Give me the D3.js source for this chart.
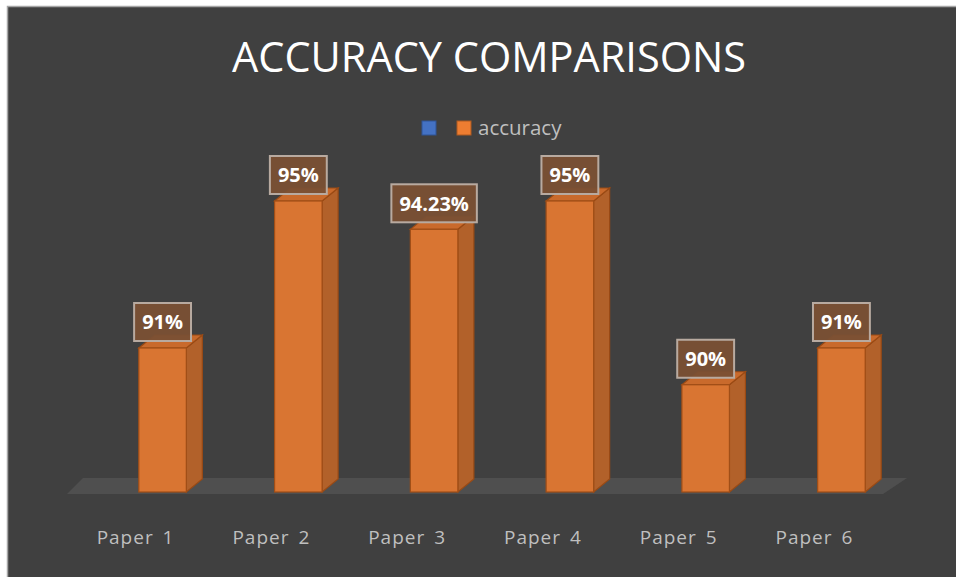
<!DOCTYPE html>
<html>
<head>
    <meta charset="utf-8">
    <title>Accuracy comparisons</title>
    <style>
        body { margin: 0; background: #fff; overflow: hidden; }
        svg text { font-family: "Open Sans", "Noto Sans", sans-serif; }
    </style>
</head>
<body>
<script src="https://cdn.jsdelivr.net/npm/d3@7"></script>
<script>
    var categories = ['Paper 1', 'Paper 2', 'Paper 3', 'Paper 4', 'Paper 5', 'Paper 6'];
    var accuracy = [91, 95, 94.23, 95, 90, 91];
    var valueLabels = ['91%', '95%', '94.23%', '95%', '90%', '91%'];

    var w = 956, h = 577;
    var depthX = 16, depthY = 13;   // 3d offset of bar sides
    var baseY = 492;

    var svg = d3.select('body').append('svg')
            .attr('width', w)
            .attr('height', h)
            .style('display', 'block');

    // chart area
    svg.append('rect')
            .attr('x', 7.5).attr('y', 6.5)
            .attr('width', 960).attr('height', 580)
            .attr('fill', '#404040')
            .attr('stroke', '#a6a6a6')
            .attr('stroke-width', 1.5);

    svg.append('text')
            .attr('x', 489).attr('y', 72)
            .attr('text-anchor', 'middle')
            .attr('fill', '#ffffff')
            .style('font-size', '41.5px')
            .text('ACCURACY COMPARISONS');

    // legend (first entry is an empty series)
    svg.append('rect').attr('x', 422).attr('y', 121).attr('width', 14).attr('height', 14)
            .attr('fill', '#4472c4').attr('stroke', '#2f5597');
    svg.append('rect').attr('x', 457).attr('y', 121).attr('width', 14).attr('height', 14)
            .attr('fill', '#ed7d31').attr('stroke', '#ae5a21');
    svg.append('text').attr('x', 478).attr('y', 135)
            .attr('fill', '#bfbfbf')
            .style('font-size', '20.5px')
            .text('accuracy');

    var x = d3.scaleBand()
            .domain(categories)
            .range([94, 910])
            .paddingInner(0.65)
            .paddingOuter(0.33);

    var y = d3.scaleLinear()
            .domain([87, 95])
            .range([495, 201]);

    // floor
    svg.append('polygon')
            .attr('points', [[67, 494], [883, 494], [907, 478], [83, 478]].join(' '))
            .attr('fill', '#4f4f4f');

    var bars = svg.selectAll('g.bar')
            .data(accuracy)
            .enter()
            .append('g')
            .attr('class', 'bar');

    // side
    bars.append('polygon')
            .attr('points', function(d, i) {
                var x1 = x(categories[i]) + x.bandwidth();
                return [[x1, y(d)], [x1 + depthX, y(d) - depthY], [x1 + depthX, baseY - depthY], [x1, baseY]].join(' ');
            })
            .attr('fill', '#b2612a')
            .attr('stroke', '#9a4a14')
            .attr('stroke-width', 1.2);

    // top
    bars.append('polygon')
            .attr('points', function(d, i) {
                var x0 = x(categories[i]), x1 = x0 + x.bandwidth();
                return [[x0, y(d)], [x1, y(d)], [x1 + depthX, y(d) - depthY], [x0 + depthX, y(d) - depthY]].join(' ');
            })
            .attr('fill', '#c96a2c')
            .attr('stroke', '#9a4a14')
            .attr('stroke-width', 1.2);

    // front
    bars.append('rect')
            .attr('x', function(d, i) { return x(categories[i]); })
            .attr('y', function(d) { return y(d); })
            .attr('width', x.bandwidth())
            .attr('height', function(d) { return baseY - y(d); })
            .attr('fill', '#d97532')
            .attr('stroke', '#a04e17')
            .attr('stroke-width', 1.2);

    // data labels
    var labels = svg.selectAll('g.lbl')
            .data(accuracy)
            .enter()
            .append('g')
            .attr('class', 'lbl')
            .attr('transform', function(d, i) {
                return 'translate(' + (x(categories[i]) + x.bandwidth() / 2) + ',' + (y(d) - 26) + ')';
            });

    labels.append('text')
            .attr('text-anchor', 'middle')
            .attr('dy', '0.36em')
            .attr('fill', '#ffffff')
            .style('font-size', '20px')
            .style('font-weight', 'bold')
            .text(function(d, i) { return valueLabels[i]; })
            .each(function() {
                var bb = this.getBBox();
                d3.select(this.parentNode).insert('rect', 'text')
                        .attr('x', -bb.width / 2 - 8)
                        .attr('y', -19)
                        .attr('width', bb.width + 16)
                        .attr('height', 38)
                        .attr('fill', 'rgba(122, 80, 52, 0.95)')
                        .attr('stroke', '#b8aaa0')
                        .attr('stroke-width', 2);
            });

    // category labels
    svg.selectAll('text.cat')
            .data(categories)
            .enter()
            .append('text')
            .attr('class', 'cat')
            .attr('x', function(d) { return x(d) + x.bandwidth() / 2 - 27; })
            .attr('y', 544)
            .attr('text-anchor', 'middle')
            .attr('fill', '#bfbfbf')
            .style('font-size', '19px')
            .style('letter-spacing', '1px')
            .style('word-spacing', '3px')
            .text(function(d) { return d; });
</script>
</body>
</html>
